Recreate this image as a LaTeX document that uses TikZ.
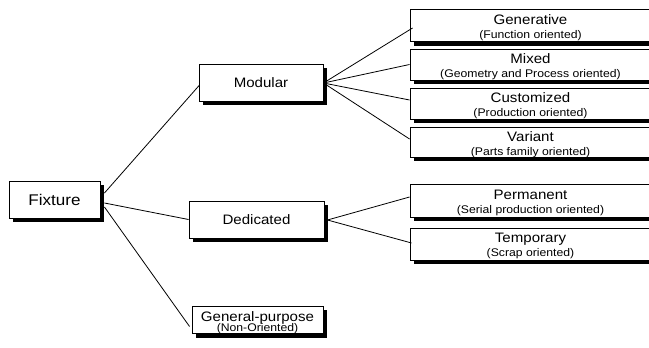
\documentclass[tikz,border=0pt]{standalone}
\usepackage{fontspec}
\setmainfont{Liberation Sans}[FakeStretch=1.1]
\usetikzlibrary{shadows,calc}
\newcommand{\ttl}{\fontsize{13.7}{14}\selectfont}
\newcommand{\sbt}{\fontsize{11.1}{13}\selectfont}
\newcommand{\tstrut}{\rule{0pt}{13.5pt}}
\tikzset{
  box/.style={draw=black, line width=0.9pt, fill=white, inner sep=0pt, align=center,
    drop shadow={shadow xshift=4pt, shadow yshift=-4pt, fill=black, opacity=1}},
  conn/.style={draw=black, line width=0.8pt}
}
\begin{document}
\begin{tikzpicture}[x=1pt,y=-1pt]
\useasboundingbox (0,0) rectangle (649,348);
\clip (0,0) rectangle (649,348);
\fill[white] (0,0) rectangle (649,348);
% left column
\node[box, minimum width=91pt, minimum height=37pt, font=\fontsize{15.5}{16}\selectfont] (Fixture) at (54.5,199.5) {Fixture};
% middle column
\node[box, minimum width=124pt, minimum height=37pt, font=\ttl] (Modular) at (261,82.5) {Modular};
\node[box, minimum width=135pt, minimum height=37pt, font=\ttl] (Dedicated) at (256.5,219.5) {Dedicated};
\node[box, minimum width=131pt, minimum height=22pt] (General) at (257.5,320) {\ttl\rule{0pt}{15pt}General-purpose\\[-2pt]\sbt (Non-Oriented)};
% right column
\node[box, minimum width=241pt, minimum height=32pt] (Generative) at (530.5,25.5) {\ttl\tstrut Generative\\[2pt]\sbt (Function oriented)};
\node[box, minimum width=241pt, minimum height=31pt] (Mixed) at (530.5,64.5) {\ttl\tstrut Mixed\\[2pt]\sbt (Geometry and Process oriented)};
\node[box, minimum width=241pt, minimum height=31pt] (Customized) at (530.5,103.5) {\ttl\tstrut Customized\\[2pt]\sbt (Production oriented)};
\node[box, minimum width=241pt, minimum height=29pt] (Variant) at (530.5,142.5) {\ttl\tstrut Variant\\[2pt]\sbt (Parts family oriented)};
\node[box, minimum width=241pt, minimum height=33pt] (Permanent) at (530.5,200.5) {\ttl\tstrut Permanent\\[2pt]\sbt (Serial production oriented)};
\node[box, minimum width=241pt, minimum height=32pt] (Temporary) at (530.5,244) {\ttl\tstrut Temporary\\[2pt]\sbt (Scrap oriented)};
% connectors
\draw[conn] ($(Fixture.east)+(4,-6.5)$) -- ($(Modular.west)+(1,2.5)$);
\draw[conn] ($(Fixture.east)+(4,3.5)$) -- (Dedicated.west);
\draw[conn] ($(Fixture.east)+(4,7.5)$) -- ($(General.west)+(-2,6.5)$);
\coordinate (mhub) at ($(Modular.east)+(0,0.5)$);
\draw[conn] (mhub) -- ($(Generative.west)+(3,2.5)$);
\draw[conn] (mhub) -- (Mixed.west);
\draw[conn] (mhub) -- ($(Customized.west)+(0,-3.5)$);
\draw[conn] (mhub) -- ($(Variant.west)+(0,-3.5)$);
\coordinate (dhub) at ($(Dedicated.east)+(3,0.5)$);
\draw[conn] (dhub) -- ($(Permanent.west)+(0,-3.5)$);
\draw[conn] (dhub) -- ($(Temporary.west)+(2,-1)$);
\end{tikzpicture}
\end{document}
